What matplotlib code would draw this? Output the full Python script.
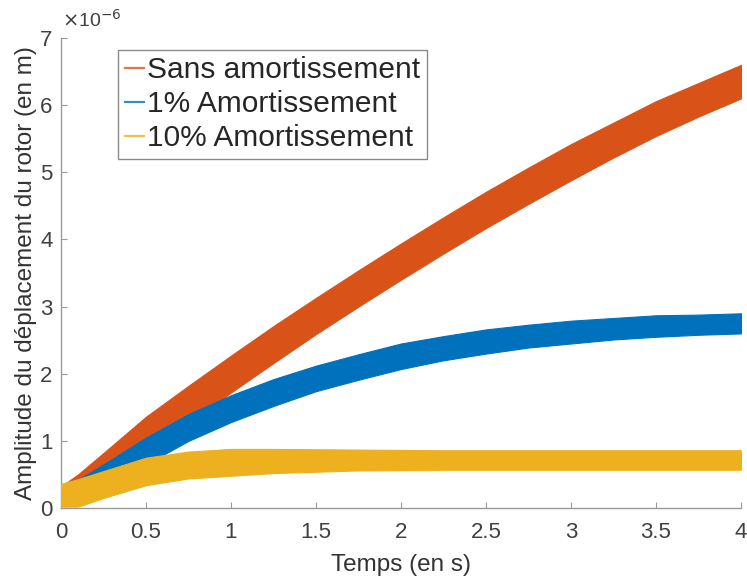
from matplotlib import pyplot as plt
from matplotlib.lines import Line2D
import numpy as np

#################################
# Data (envelopes of the oscillating response, x1e-6 m)
t = [0, 0.1, 0.25, 0.5, 0.75, 1, 1.25, 1.5, 1.75, 2, 2.25, 2.5, 2.75, 3, 3.25, 3.5, 3.75, 4]

sans_lo = [0.12, 0.25, 0.42, 0.82, 1.27, 1.72, 2.16, 2.59, 3.0, 3.4, 3.79, 4.17, 4.53, 4.88, 5.22, 5.54, 5.83, 6.1]
sans_hi = [0.32, 0.5, 0.82, 1.36, 1.82, 2.27, 2.71, 3.13, 3.54, 3.94, 4.33, 4.71, 5.07, 5.42, 5.74, 6.06, 6.33, 6.6]

am1_lo = [0.08, 0.2, 0.35, 0.65, 1.0, 1.28, 1.52, 1.74, 1.91, 2.07, 2.2, 2.3, 2.39, 2.45, 2.51, 2.55, 2.58, 2.6]
am1_hi = [0.28, 0.42, 0.65, 1.05, 1.4, 1.68, 1.92, 2.12, 2.29, 2.45, 2.56, 2.66, 2.73, 2.79, 2.83, 2.87, 2.88, 2.9]

am10_lo = [0.02, 0.02, 0.15, 0.34, 0.44, 0.48, 0.52, 0.54, 0.56, 0.565, 0.57, 0.57, 0.57, 0.57, 0.57, 0.57, 0.57, 0.57]
am10_hi = [0.36, 0.43, 0.55, 0.75, 0.84, 0.88, 0.88, 0.875, 0.87, 0.865, 0.86, 0.86, 0.86, 0.86, 0.86, 0.86, 0.86, 0.86]

labels = ['Sans amortissement', '1% Amortissement', '10% Amortissement']
colors = ['#D95319', '#0072BD', '#EDB120']
#################################


#################################
# Make figure
plt.rcParams['font.family'] = ['Liberation Sans', 'DejaVu Sans']

tk_fs = 16
lb_fs = 17.5
lg_fs = 21.5

fig = plt.figure(figsize=[7.47, 5.8], dpi=100)
ax = fig.add_axes([61/747., 72/580., 680/747., 470/580.])

ax.fill_between(t, sans_lo, sans_hi, facecolor=colors[0], edgecolor=colors[0], lw=0.8, zorder=2)
ax.fill_between(t, am1_lo, am1_hi, facecolor=colors[1], edgecolor=colors[1], lw=0.8, zorder=3)
ax.fill_between(t, am10_lo, am10_hi, facecolor=colors[2], edgecolor=colors[2], lw=0.8, zorder=4)

ax.set_xlim(0, 4)
ax.set_ylim(0, 7)
ax.set_xticks(np.arange(0, 4.01, 0.5))
ax.set_xticklabels(['0', '0.5', '1', '1.5', '2', '2.5', '3', '3.5', '4'])
ax.set_yticks(np.arange(0, 8, 1))

for s in ['top', 'right']:
    ax.spines[s].set_visible(False)
for s in ['left', 'bottom']:
    ax.spines[s].set_color('#9a9a9a')
    ax.spines[s].set_linewidth(1.0)
ax.tick_params(direction='in', length=4, width=0.8, color='#9a9a9a',
               labelsize=tk_fs, labelcolor='#404040')
ax.tick_params(axis='x', pad=10)
ax.tick_params(axis='y', pad=6)

ax.set_xlabel('Temps (en s)', fontsize=lb_fs, color='#333333', labelpad=8)
ax.set_ylabel('Amplitude du déplacement du rotor (en m)', fontsize=lb_fs, color='#333333', labelpad=2)

fig.text(62/747., 1 - 20/580., r'$\times$10$^{-6}$', fontsize=14, color='#404040',
         ha='left', va='center')

handles = [Line2D([0], [0], color=c, lw=1.6, alpha=0.8) for c in colors]
leg = ax.legend(handles, labels, loc='upper left', bbox_to_anchor=(0.084, 0.975),
                borderaxespad=0, fontsize=lg_fs, handlelength=0.65, handletextpad=0.1,
                labelspacing=0.2, borderpad=0.22, fancybox=False, framealpha=1,
                edgecolor='#8a8a8a')
leg.get_frame().set_linewidth(1.0)
for txt in leg.get_texts():
    txt.set_color('#262626')

plt.savefig('out.png', dpi=100)
#################################
